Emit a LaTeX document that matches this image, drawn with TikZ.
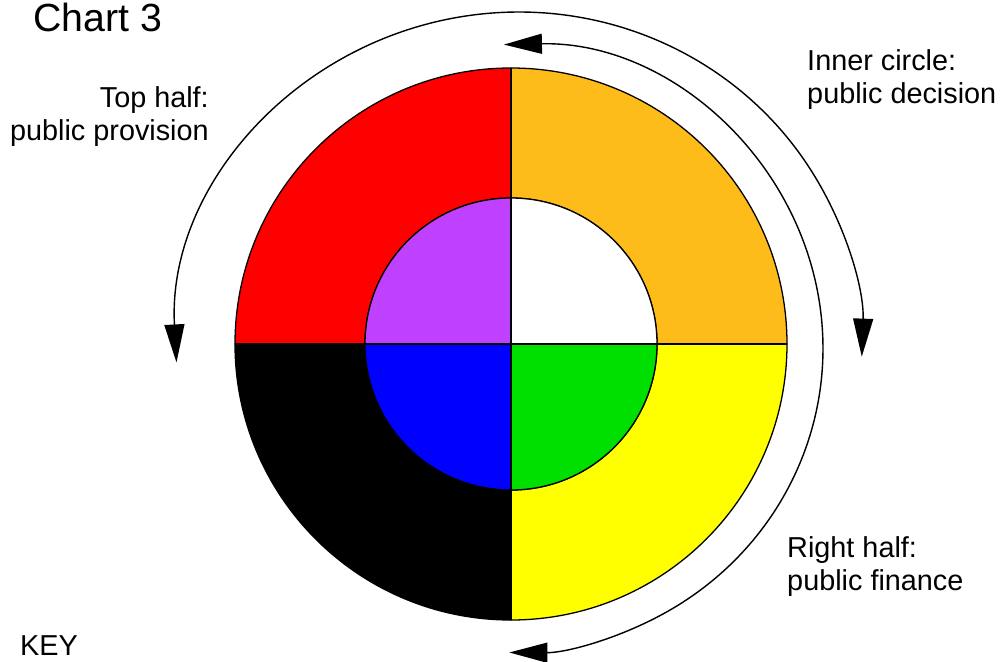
\documentclass[tikz,border=0pt]{standalone}
\usepackage{fontspec}
\setmainfont{Liberation Sans}
\usetikzlibrary{arrows.meta}
\definecolor{ringorange}{RGB}{253,188,26}
\definecolor{ringred}{RGB}{255,0,0}
\definecolor{ringyellow}{RGB}{255,255,0}
\definecolor{corepurple}{RGB}{192,64,255}
\definecolor{coreblue}{RGB}{0,0,255}
\definecolor{coregreen}{RGB}{0,224,0}
\tikzset{
  sector/.style={draw=black, line width=1.1pt, line join=round},
  divider/.style={draw=black, line width=1.6pt},
  turn/.style={
    {Triangle[length=1.14cm,width=0.6cm]}-{Triangle[length=1.14cm,width=0.6cm]},
    draw=black, line width=1.2pt
  },
  notetext/.style={inner sep=0pt, text=black, font=\fontsize{24.6}{28.2}\selectfont},
  titletext/.style={inner sep=0pt, text=black, font=\fontsize{33.5}{40}\selectfont}
}

\begin{document}
\begin{tikzpicture}[x=0.03cm,y=0.03cm]
  \useasboundingbox (0,0) rectangle (1003,-661);

  \coordinate (hub) at (511,-344);

  % Outer ring and inner core, one quarter at a time.
  \foreach \a/\ring/\core in {0/ringorange/white, 90/ringred/corepurple,
                              180/black/coreblue, 270/ringyellow/coregreen} {
    \filldraw[sector, fill=\ring] (hub) ++(\a:276)
      arc[start angle=\a, delta angle=90, radius=276]
      -- ++(\a+270:130)
      arc[start angle=\a+90, delta angle=-90, radius=146] -- cycle;
    \filldraw[sector, fill=\core] (hub) -- ++(\a:146)
      arc[start angle=\a, delta angle=90, radius=146] -- cycle;
  }

  % Quarter dividers.
  \coordinate (west) at (235,-344);
  \coordinate (east) at (787,-344);
  \coordinate (north) at (511,-68);
  \coordinate (south) at (511,-620);
  \draw[divider] (west) -- (east);
  \draw[divider] (north) -- (south);

  % Rotation arrows.
  \coordinate (upperleft) at (519,-345);
  \coordinate (rightside) at (511,-348.5);
  \draw[turn] (upperleft) ++(183:343 and 333)
    arc[start angle=183, end angle=-2, x radius=343, y radius=333];
  \draw[turn] (rightside) ++(91.3:312 and 304)
    arc[start angle=91.3, end angle=-90.3, x radius=312, y radius=304];

  % Labels.
  \node[titletext, anchor=base west] (title) at (33,-31) {Chart 3};
  \node[notetext, anchor=north east, align=right] (tophalf) at (209,-86)
    {Top half:\\ public provision};
  \node[notetext, anchor=north west, align=left] (innercircle) at (807,-49)
    {Inner circle:\\ public decision};
  \node[notetext, anchor=north west, align=left] (righthalf) at (787,-536)
    {Right half:\\ public finance};
  \node[notetext, anchor=base west] (key) at (20,-655.5) {KEY};

\end{tikzpicture}
\end{document}
